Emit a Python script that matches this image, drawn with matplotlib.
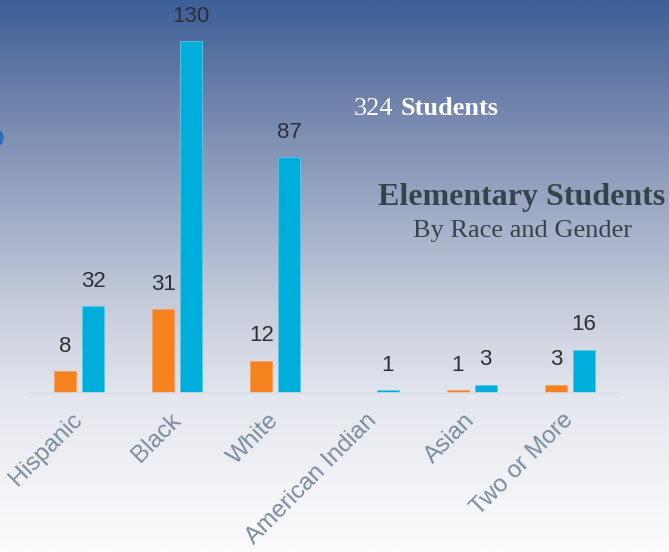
import numpy as np
import matplotlib
matplotlib.use("Agg")
import matplotlib.pyplot as plt
from matplotlib.patches import Ellipse
from matplotlib.colors import LinearSegmentedColormap

categories = ["Hispanic", "Black", "White", "American Indian", "Asian", "Two or More"]
female = [8, 31, 12, 0, 1, 3]
male = [32, 130, 87, 1, 3, 16]

orange = "#F5821F"
cyan = "#00AEDB"

W, H = 669, 552
fig = plt.figure(figsize=(W / 100, H / 100), dpi=100)

# gradient background
bg = fig.add_axes([0, 0, 1, 1], zorder=-2)
stops = [(0.0, "#3d5e98"), (100 / H, "#6f82ab"), (200 / H, "#9aa7c3"),
         (300 / H, "#c4cad9"), (400 / H, "#e4e7ee"), (1.0, "#fcfcfd")]
cmap = LinearSegmentedColormap.from_list("bg", stops)
grad = np.linspace(0, 1, 512).reshape(-1, 1)
bg.imshow(grad, aspect="auto", cmap=cmap, extent=[0, 1, 0, 1], origin="upper")
bg.axis("off")

# small blue circle at left edge
circ = Ellipse((-6 / W, 1 - 138 / H), 18 / W, 18 / H, transform=fig.transFigure,
               color="#2a6db5", zorder=5)
fig.patches.append(circ)

ax = fig.add_axes([30 / W, 159 / H, 589 / W, 352 / H])
ax.patch.set_alpha(0)
x = np.arange(len(categories))
bw = 0.224
off = 0.1426
b1 = ax.bar(x - off, female, bw, color=orange, edgecolor="#f7a060", linewidth=0.6)
b2 = ax.bar(x + off, male, bw, color=cyan, edgecolor="#5cc8e8", linewidth=0.6)

for bars, vals in ((b1, female), (b2, male)):
    for rect, v in zip(bars, vals):
        if v == 0:
            continue
        ax.annotate(str(v), (rect.get_x() + rect.get_width() / 2, v),
                    xytext=(0, 25), textcoords="offset pixels",
                    ha="center", va="center", fontsize=16,
                    family="Liberation Sans", color="#2b2f36", clip_on=False)

ax.set_xlim(-0.5, len(categories) - 0.5)
ax.set_ylim(0, 130)
ax.set_yticks([])
ax.set_xticks(x)
ax.set_xticklabels(categories, rotation=45, ha="right", va="center",
                   rotation_mode="anchor", fontsize=17.5,
                   family="Liberation Sans", color="#7b8c9e")
ax.tick_params(axis="x", length=0, pad=17)
for s in ["top", "left", "right"]:
    ax.spines[s].set_visible(False)
ax.spines["bottom"].set_color("#d8dde6")
ax.spines["bottom"].set_linewidth(1.2)

# titles
fig.text(393 / W, 1 - 115 / H, "324", ha="right", va="baseline",
         fontsize=19, family="Liberation Serif", color="white")
fig.text(401 / W, 1 - 115 / H, "Students", ha="left", va="baseline",
         fontsize=19, family="Liberation Serif", fontweight="bold", color="white")
fig.text(522 / W, 1 - 205 / H, "Elementary Students", ha="center", va="baseline",
         fontsize=23, family="Liberation Serif", fontweight="bold", color="#37434b")
fig.text(523 / W, 1 - 237 / H, "By Race and Gender", ha="center", va="baseline",
         fontsize=19, family="Liberation Serif", color="#37434b")

fig.savefig("out.png", dpi=100)
